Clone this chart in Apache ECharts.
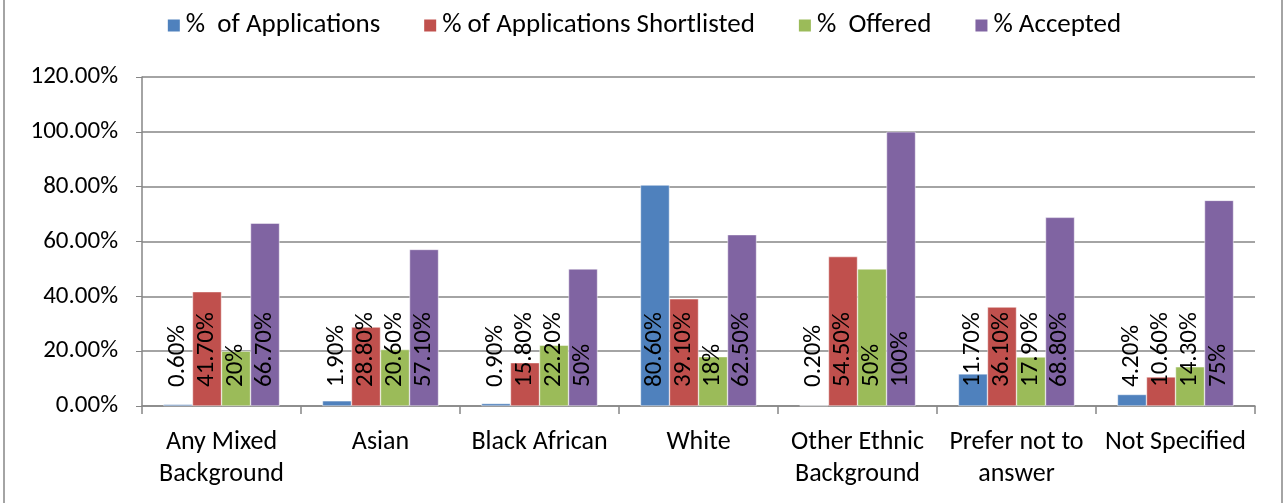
<!DOCTYPE html>
<html>
<head>
<meta charset="utf-8">
<script src="https://cdn.jsdelivr.net/npm/echarts@6/dist/echarts.min.js"></script>
<style>
  html, body { margin: 0; padding: 0; background: #fff; }
  #main { width: 1287px; height: 503px; }
</style>
</head>
<body>
<div id="main"></div>
<script>
// data
var categories = ['Any Mixed\nBackground', 'Asian', 'Black African', 'White',
    'Other Ethnic\nBackground', 'Prefer not to\nanswer', 'Not Specified'];
var seriesNames = ['%  of Applications', '% of Applications Shortlisted', '%  Offered', '% Accepted'];
var applications = [0.6, 1.9, 0.9, 80.6, 0.2, 11.7, 4.2];
var shortlisted = [41.7, 28.8, 15.8, 39.1, 54.5, 36.1, 10.6];
var offered = [20, 20.6, 22.2, 18, 50, 17.9, 14.3];
var accepted = [66.7, 57.1, 50, 62.5, 100, 68.8, 75];
var colors = ['#4F81BD', '#C0504D', '#9BBB59', '#8064A2'];

var font = 'Carlito, "Open Sans", "Liberation Sans", sans-serif';

var chart = echarts.init(document.getElementById('main'));

function fmt(v) {
    return Number.isInteger(v) ? v + '%' : v.toFixed(2) + '%';
}

function makeSeries(name, data, i) {
    return {
        name: name,
        type: 'bar',
        data: data,
        barGap: '0%',
        barCategoryGap: '27%',
        itemStyle: { color: colors[i], borderColor: '#fff', borderWidth: 0.5 },
        label: {
            show: true,
            position: 'insideBottom',
            rotate: 90,
            align: 'left',
            verticalAlign: 'middle',
            distance: 19,
            color: '#000',
            fontFamily: font,
            fontSize: 25,
            formatter: function (p) { return fmt(p.value); }
        }
    };
}

var option = {
    animation: false,
    textStyle: { fontFamily: font },
    color: colors,
    legend: {
        top: 7,
        left: 'center',
        itemWidth: 14,
        itemHeight: 14,
        itemGap: 42,
        icon: 'rect',
        textStyle: { fontSize: 27, color: '#000', fontFamily: font },
        data: seriesNames
    },
    grid: { left: 142, right: 32, top: 77, bottom: 97 },
    xAxis: {
        type: 'category',
        data: categories,
        axisLine: { lineStyle: { color: '#868686', width: 1.5 } },
        axisTick: { show: true, length: 8, lineStyle: { color: '#868686', width: 1.5 } },
        axisLabel: { color: '#000', fontSize: 26, lineHeight: 32, margin: 20, interval: 0, fontFamily: font }
    },
    yAxis: {
        type: 'value',
        min: 0,
        max: 120,
        interval: 20,
        axisLine: { show: true, lineStyle: { color: '#868686', width: 1.5 } },
        axisTick: { show: true, length: 6, lineStyle: { color: '#868686' } },
        splitLine: { lineStyle: { color: '#868686', width: 1.5 } },
        axisLabel: {
            color: '#000', fontSize: 25, margin: 24, fontFamily: font,
            formatter: function (v) { return v.toFixed(2) + '%'; }
        }
    },
    graphic: [{
        type: 'rect',
        shape: { x: 4, y: -2, width: 1278, height: 507 },
        style: { fill: 'none', stroke: '#868686', lineWidth: 1.5 }
    }],
    series: [
        makeSeries(seriesNames[0], applications, 0),
        makeSeries(seriesNames[1], shortlisted, 1),
        makeSeries(seriesNames[2], offered, 2),
        makeSeries(seriesNames[3], accepted, 3)
    ]
};

chart.setOption(option);
</script>
</body>
</html>
